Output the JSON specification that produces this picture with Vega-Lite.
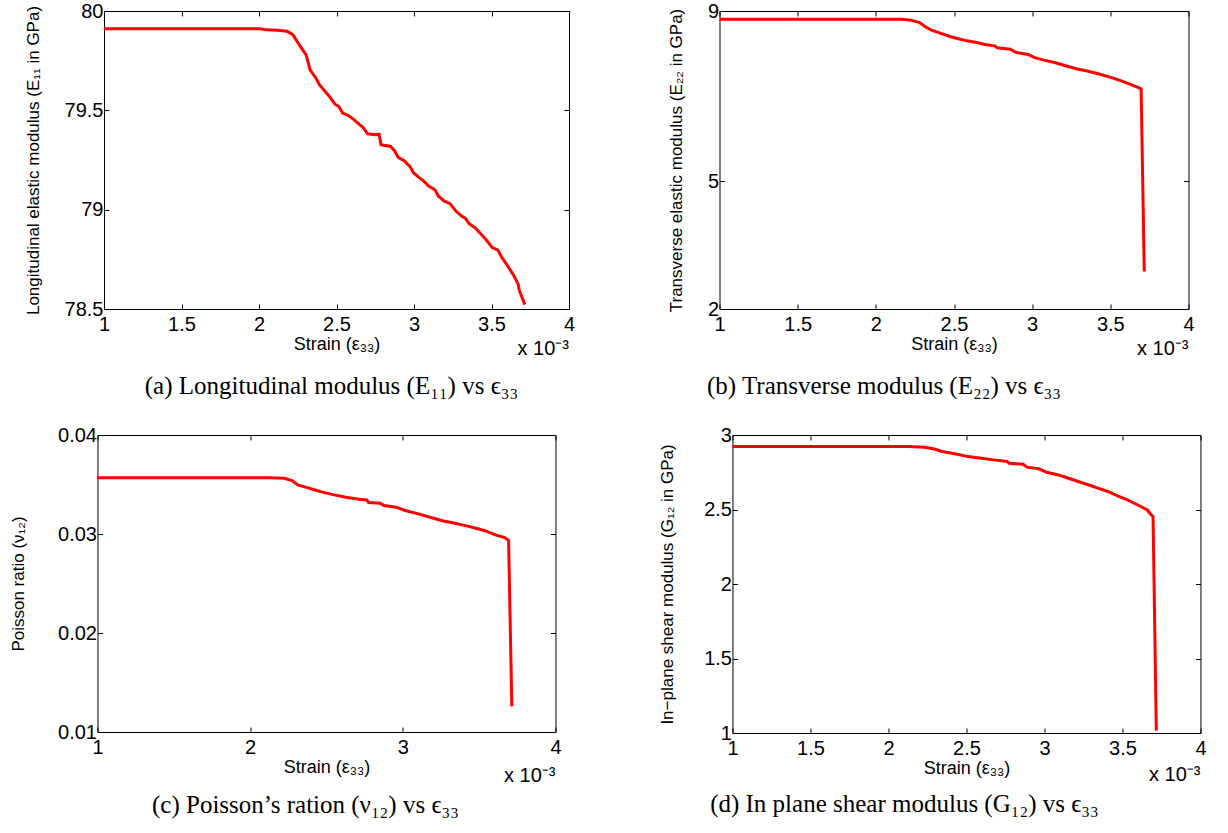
{
  "$schema": "https://vega.github.io/schema/vega-lite/v6.json",
  "padding": {"left": 9, "top": 0, "right": 0, "bottom": 0},
  "background": "white",
  "spacing": 24,
  "center": true,
  "vconcat": [
    {
      "spacing": 90.5,
      "hconcat": [
        {
          "width": 465, "height": 298,
          "title": {"text": "(a) Longitudinal modulus (E₁₁) vs ϵ₃₃", "dx": -5, "offset": 15},
          "layer": [
            {
              "data": {"values": [
                {"strain": 1, "value": 79.911}, {"strain": 2.007, "value": 79.911}, {"strain": 2.045, "value": 79.905}, {"strain": 2.12, "value": 79.903},
                {"strain": 2.18, "value": 79.898}, {"strain": 2.218, "value": 79.881}, {"strain": 2.255, "value": 79.836}, {"strain": 2.305, "value": 79.778},
                {"strain": 2.33, "value": 79.703}, {"strain": 2.366, "value": 79.664}, {"strain": 2.391, "value": 79.628}, {"strain": 2.428, "value": 79.594},
                {"strain": 2.46, "value": 79.564}, {"strain": 2.49, "value": 79.531}, {"strain": 2.515, "value": 79.519}, {"strain": 2.54, "value": 79.486},
                {"strain": 2.577, "value": 79.474}, {"strain": 2.614, "value": 79.452}, {"strain": 2.651, "value": 79.427}, {"strain": 2.676, "value": 79.41},
                {"strain": 2.7, "value": 79.382}, {"strain": 2.75, "value": 79.377}, {"strain": 2.775, "value": 79.38}, {"strain": 2.787, "value": 79.327},
                {"strain": 2.849, "value": 79.318}, {"strain": 2.874, "value": 79.297}, {"strain": 2.898, "value": 79.263}, {"strain": 2.936, "value": 79.247},
                {"strain": 2.973, "value": 79.218}, {"strain": 2.998, "value": 79.185}, {"strain": 3.035, "value": 79.16}, {"strain": 3.06, "value": 79.146},
                {"strain": 3.097, "value": 79.118}, {"strain": 3.134, "value": 79.101}, {"strain": 3.158, "value": 79.068}, {"strain": 3.196, "value": 79.043},
                {"strain": 3.233, "value": 79.03}, {"strain": 3.27, "value": 78.993}, {"strain": 3.307, "value": 78.968}, {"strain": 3.332, "value": 78.956},
                {"strain": 3.356, "value": 78.929}, {"strain": 3.393, "value": 78.909}, {"strain": 3.431, "value": 78.879}, {"strain": 3.468, "value": 78.846},
                {"strain": 3.505, "value": 78.809}, {"strain": 3.542, "value": 78.796}, {"strain": 3.567, "value": 78.759}, {"strain": 3.604, "value": 78.717},
                {"strain": 3.641, "value": 78.672}, {"strain": 3.672, "value": 78.625}, {"strain": 3.68, "value": 78.592}, {"strain": 3.697, "value": 78.559},
                {"strain": 3.715, "value": 78.522}
              ]},
              "mark": {"type": "line", "color": "#ff0000", "strokeWidth": 3},
              "encoding": {
                "x": {"field": "strain", "type": "quantitative", "scale": {"domain": [1, 4], "nice": false, "zero": false},
                      "axis": {"orient": "bottom", "values": [1, 1.5, 2, 2.5, 3, 3.5, 4], "format": "~g", "title": "Strain (ε₃₃)", "titleX": 232.5, "titleY": 40, "titleBaseline": "alphabetic"}},
                "y": {"field": "value", "type": "quantitative", "scale": {"domain": [78.5, 80], "nice": false, "zero": false},
                      "axis": {"orient": "left", "values": [78.5, 79, 79.5, 80], "format": "~g", "title": "Longitudinal elastic modulus (E₁₁ in GPa)", "titleX": -61.5, "titleY": 149, "titleBaseline": "bottom"}}
              }
            },
            {
              "data": {"values": [{"label": "x 10⁻³"}]},
              "mark": {"type": "text", "align": "right", "baseline": "alphabetic", "dy": 46, "fontSize": 20, "font": "Liberation Sans", "color": "black"},
              "encoding": {
                "x": {"datum": 4, "type": "quantitative", "axis": {"orient": "top", "values": [1, 1.5, 2, 2.5, 3, 3.5, 4], "labels": false, "title": null}},
                "y": {"datum": 78.5, "type": "quantitative", "axis": {"orient": "right", "values": [78.5, 79, 79.5, 80], "labels": false, "title": null}},
                "text": {"field": "label"}
              }
            }
          ],
          "resolve": {"axis": {"x": "independent", "y": "independent"}}
        },
        {
          "width": 469, "height": 298,
          "title": {"text": "(b) Transverse modulus (E₂₂) vs ϵ₃₃", "dx": -70, "offset": 15},
          "layer": [
            {
              "data": {"values": [
                {"strain": 1, "value": 8.805}, {"strain": 2.167, "value": 8.805}, {"strain": 2.23, "value": 8.78}, {"strain": 2.28, "value": 8.727},
                {"strain": 2.318, "value": 8.626}, {"strain": 2.356, "value": 8.548}, {"strain": 2.407, "value": 8.486}, {"strain": 2.47, "value": 8.408},
                {"strain": 2.52, "value": 8.353}, {"strain": 2.583, "value": 8.299}, {"strain": 2.646, "value": 8.26}, {"strain": 2.697, "value": 8.213},
                {"strain": 2.76, "value": 8.182}, {"strain": 2.777, "value": 8.135}, {"strain": 2.86, "value": 8.104}, {"strain": 2.898, "value": 8.026},
                {"strain": 2.974, "value": 7.979}, {"strain": 3.012, "value": 7.909}, {"strain": 3.075, "value": 7.846}, {"strain": 3.15, "value": 7.784},
                {"strain": 3.213, "value": 7.714}, {"strain": 3.289, "value": 7.636}, {"strain": 3.352, "value": 7.589}, {"strain": 3.428, "value": 7.519},
                {"strain": 3.503, "value": 7.441}, {"strain": 3.566, "value": 7.363}, {"strain": 3.629, "value": 7.277}, {"strain": 3.68, "value": 7.2},
                {"strain": 3.697, "value": 7.168}, {"strain": 3.717, "value": 2.88}
              ]},
              "mark": {"type": "line", "color": "#ff0000", "strokeWidth": 3},
              "encoding": {
                "x": {"field": "strain", "type": "quantitative", "scale": {"domain": [1, 4], "nice": false, "zero": false},
                      "axis": {"orient": "bottom", "values": [1, 1.5, 2, 2.5, 3, 3.5, 4], "format": "~g", "title": "Strain (ε₃₃)", "titleX": 234.5, "titleY": 40, "titleBaseline": "alphabetic"}},
                "y": {"field": "value", "type": "quantitative", "scale": {"domain": [2, 9], "nice": false, "zero": false},
                      "axis": {"orient": "left", "values": [2, 5, 9], "format": "~g", "title": "Transverse elastic modulus (E₂₂ in GPa)", "titleX": -34, "titleY": 149, "titleBaseline": "bottom"}}
              }
            },
            {
              "data": {"values": [{"label": "x 10⁻³"}]},
              "mark": {"type": "text", "align": "right", "baseline": "alphabetic", "dy": 46, "fontSize": 20, "font": "Liberation Sans", "color": "black"},
              "encoding": {
                "x": {"datum": 4, "type": "quantitative", "axis": {"orient": "top", "values": [1, 1.5, 2, 2.5, 3, 3.5, 4], "labels": false, "title": null}},
                "y": {"datum": 2, "type": "quantitative", "axis": {"orient": "right", "values": [2, 5, 9], "labels": false, "title": null, "minExtent": 11}},
                "text": {"field": "label"}
              }
            }
          ],
          "resolve": {"axis": {"x": "independent", "y": "independent"}}
        }
      ]
    },
    {
      "spacing": 96,
      "hconcat": [
        {
          "width": 458, "height": 297,
          "title": {"text": "(c) Poisson’s ration (ν₁₂) vs ϵ₃₃", "dx": -21, "offset": 7},
          "layer": [
            {
              "data": {"values": [
                {"strain": 1, "value": 0.03569}, {"strain": 2.123, "value": 0.03569}, {"strain": 2.224, "value": 0.03563}, {"strain": 2.274, "value": 0.03539},
                {"strain": 2.312, "value": 0.03496}, {"strain": 2.374, "value": 0.03469}, {"strain": 2.425, "value": 0.03445}, {"strain": 2.487, "value": 0.03418},
                {"strain": 2.55, "value": 0.03395}, {"strain": 2.626, "value": 0.03371}, {"strain": 2.714, "value": 0.03351}, {"strain": 2.764, "value": 0.03344},
                {"strain": 2.776, "value": 0.03317}, {"strain": 2.852, "value": 0.03311}, {"strain": 2.877, "value": 0.03287}, {"strain": 2.965, "value": 0.03267},
                {"strain": 3.015, "value": 0.03237}, {"strain": 3.103, "value": 0.03203}, {"strain": 3.178, "value": 0.03169}, {"strain": 3.266, "value": 0.03132},
                {"strain": 3.342, "value": 0.03109}, {"strain": 3.417, "value": 0.03082}, {"strain": 3.48, "value": 0.03058}, {"strain": 3.543, "value": 0.03031},
                {"strain": 3.606, "value": 0.02991}, {"strain": 3.668, "value": 0.02964}, {"strain": 3.693, "value": 0.02934}, {"strain": 3.714, "value": 0.01259}
              ]},
              "mark": {"type": "line", "color": "#ff0000", "strokeWidth": 3},
              "encoding": {
                "x": {"field": "strain", "type": "quantitative", "scale": {"domain": [1, 4], "nice": false, "zero": false},
                      "axis": {"orient": "bottom", "values": [1, 2, 3, 4], "format": "~g", "title": "Strain (ε₃₃)", "titleX": 229, "titleY": 40, "titleBaseline": "alphabetic"}},
                "y": {"field": "value", "type": "quantitative", "scale": {"domain": [0.01, 0.04], "nice": false, "zero": false},
                      "axis": {"orient": "left", "values": [0.01, 0.02, 0.03, 0.04], "format": "~g", "title": "Poisson ratio (ν₁₂)", "titleX": -69.5, "titleY": 148.5, "titleBaseline": "bottom"}}
              }
            },
            {
              "data": {"values": [{"label": "x 10⁻³"}]},
              "mark": {"type": "text", "align": "right", "baseline": "alphabetic", "dy": 50, "fontSize": 20, "font": "Liberation Sans", "color": "black"},
              "encoding": {
                "x": {"datum": 4, "type": "quantitative", "axis": {"orient": "top", "values": [1, 2, 3, 4], "labels": false, "title": null}},
                "y": {"datum": 0.01, "type": "quantitative", "axis": {"orient": "right", "values": [0.01, 0.02, 0.03, 0.04], "labels": false, "title": null}},
                "text": {"field": "label"}
              }
            }
          ],
          "resolve": {"axis": {"x": "independent", "y": "independent"}}
        },
        {
          "width": 468, "height": 298,
          "title": {"text": "(d) In plane shear modulus (G₁₂) vs ϵ₃₃", "dx": -62, "offset": 7},
          "layer": [
            {
              "data": {"values": [
                {"strain": 1, "value": 2.922}, {"strain": 2.13, "value": 2.922}, {"strain": 2.231, "value": 2.918}, {"strain": 2.294, "value": 2.906},
                {"strain": 2.344, "value": 2.889}, {"strain": 2.433, "value": 2.873}, {"strain": 2.509, "value": 2.855}, {"strain": 2.597, "value": 2.844},
                {"strain": 2.673, "value": 2.833}, {"strain": 2.761, "value": 2.822}, {"strain": 2.774, "value": 2.81}, {"strain": 2.863, "value": 2.804},
                {"strain": 2.888, "value": 2.784}, {"strain": 2.964, "value": 2.773}, {"strain": 3.014, "value": 2.75}, {"strain": 3.09, "value": 2.732},
                {"strain": 3.153, "value": 2.71}, {"strain": 3.216, "value": 2.688}, {"strain": 3.28, "value": 2.666}, {"strain": 3.343, "value": 2.643},
                {"strain": 3.406, "value": 2.621}, {"strain": 3.469, "value": 2.592}, {"strain": 3.532, "value": 2.565}, {"strain": 3.595, "value": 2.532},
                {"strain": 3.658, "value": 2.498}, {"strain": 3.683, "value": 2.465}, {"strain": 3.696, "value": 2.454}, {"strain": 3.717, "value": 1.016}
              ]},
              "mark": {"type": "line", "color": "#ff0000", "strokeWidth": 3},
              "encoding": {
                "x": {"field": "strain", "type": "quantitative", "scale": {"domain": [1, 4], "nice": false, "zero": false},
                      "axis": {"orient": "bottom", "values": [1, 1.5, 2, 2.5, 3, 3.5, 4], "format": "~g", "title": "Strain (ε₃₃)", "titleX": 234, "titleY": 40, "titleBaseline": "alphabetic"}},
                "y": {"field": "value", "type": "quantitative", "scale": {"domain": [1, 3], "nice": false, "zero": false},
                      "axis": {"orient": "left", "values": [1, 1.5, 2, 2.5, 3], "format": "~g", "title": "In−plane shear modulus (G₁₂ in GPa)", "titleX": -55.5, "titleY": 149, "titleBaseline": "bottom"}}
              }
            },
            {
              "data": {"values": [{"label": "x 10⁻³"}]},
              "mark": {"type": "text", "align": "right", "baseline": "alphabetic", "dy": 48, "fontSize": 20, "font": "Liberation Sans", "color": "black"},
              "encoding": {
                "x": {"datum": 4, "type": "quantitative", "axis": {"orient": "top", "values": [1, 1.5, 2, 2.5, 3, 3.5, 4], "labels": false, "title": null}},
                "y": {"datum": 1, "type": "quantitative", "axis": {"orient": "right", "values": [1, 1.5, 2, 2.5, 3], "labels": false, "title": null}},
                "text": {"field": "label"}
              }
            }
          ],
          "resolve": {"axis": {"x": "independent", "y": "independent"}}
        }
      ]
    }
  ],
  "config": {
    "view": {"stroke": "black", "strokeWidth": 1},
    "axis": {
      "grid": false, "domain": false, "ticks": true, "tickSize": -5, "tickColor": "black", "tickWidth": 1,
      "labelFont": "Liberation Sans", "labelFontSize": 20, "labelColor": "black", "labelFlush": false, "labelOverlap": false,
      "titleFont": "Liberation Sans", "titleFontWeight": "normal", "titleColor": "black",
      "minExtent": 0
    },
    "axisX": {"labelPadding": 10, "titleFontSize": 18},
    "axisY": {"labelPadding": 6, "titleFontSize": 17},
    "title": {"orient": "bottom", "anchor": "middle", "font": "Liberation Serif", "fontSize": 25, "fontWeight": "normal", "color": "black", "baseline": "top"}
  }
}
